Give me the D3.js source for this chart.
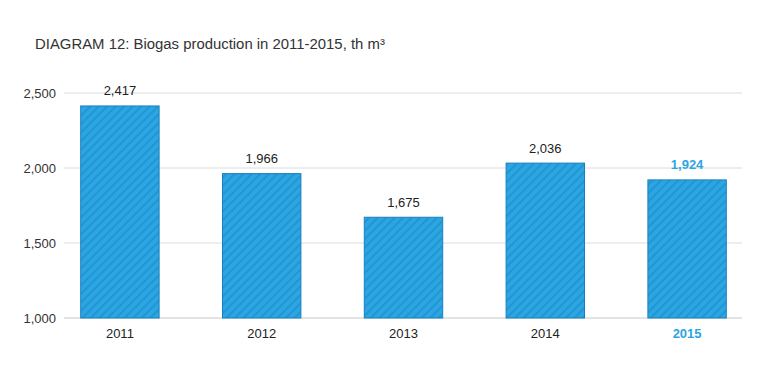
<!DOCTYPE html>
<html>
<head>
<meta charset="utf-8">
<script src="https://cdn.jsdelivr.net/npm/d3@7"></script>
<style>
  body { margin: 0; background: #fff; }
  text { font-family: "Liberation Sans", Arial, sans-serif; }
</style>
</head>
<body>
<div id="chart"></div>
<script>
var years = ["2011", "2012", "2013", "2014", "2015"];
var production = [2417, 1966, 1675, 2036, 1924];
var yTicks = [1000, 1500, 2000, 2500];

var svgWidth = 777;
var svgHeight = 372;

var svg = d3.select("#chart")
  .append("svg")
  .attr("width", svgWidth)
  .attr("height", svgHeight);

// hatch pattern for bars
var defs = svg.append("defs");
var pat = defs.append("pattern")
  .attr("id", "hatch")
  .attr("patternUnits", "userSpaceOnUse")
  .attr("width", 6)
  .attr("height", 6)
  .attr("patternTransform", "rotate(45)");
pat.append("rect").attr("width", 6).attr("height", 6).attr("fill", "#2ca6e2");
pat.append("rect").attr("x", 0).attr("width", 2).attr("height", 6).attr("fill", "#2295d3");

var xScale = d3.scaleBand()
  .domain(years)
  .range([49, 758])
  .paddingInner(0.44)
  .paddingOuter(0.22);

var yScale = d3.scaleLinear()
  .domain([1000, 2500])
  .range([318, 93]);

// title
svg.append("text")
  .attr("x", 35)
  .attr("y", 49)
  .attr("font-size", 14.9)
  .attr("fill", "#333")
  .text("DIAGRAM 12: Biogas production in 2011-2015, th m³");

// gridlines
svg.append("g")
  .selectAll("line")
  .data(yTicks)
  .enter()
  .append("line")
  .attr("x1", 64)
  .attr("x2", 742)
  .attr("y1", d => yScale(d))
  .attr("y2", d => yScale(d))
  .attr("stroke", d => d === 1000 ? "#c8c8c8" : "#dcdcdc")
  .attr("stroke-width", 1);

// y labels
svg.append("g")
  .selectAll("text")
  .data(yTicks)
  .enter()
  .append("text")
  .attr("x", 56)
  .attr("y", d => yScale(d) + 4.5)
  .attr("text-anchor", "end")
  .attr("font-size", 13)
  .attr("fill", "#333")
  .text(d => d3.format(",")(d));

var data = years.map((y, i) => ({ year: y, value: production[i] }));

// bars
svg.append("g")
  .selectAll("rect")
  .data(data)
  .enter()
  .append("rect")
  .attr("x", d => xScale(d.year) + 0.5)
  .attr("y", d => yScale(d.value) + 0.5)
  .attr("width", xScale.bandwidth() - 1)
  .attr("height", d => yScale(1000) - yScale(d.value) - 0.5)
  .attr("fill", "url(#hatch)")
  .attr("stroke", "#1a7fc1")
  .attr("stroke-width", 1);

var last = years[years.length - 1];

// value labels
svg.append("g")
  .selectAll("text")
  .data(data)
  .enter()
  .append("text")
  .attr("x", d => xScale(d.year) + xScale.bandwidth() / 2)
  .attr("y", d => yScale(d.value) - 10)
  .attr("text-anchor", "middle")
  .attr("font-size", 13)
  .attr("font-weight", d => d.year === last ? "bold" : "normal")
  .attr("fill", d => d.year === last ? "#2ca5e2" : "#222")
  .text(d => d3.format(",")(d.value));

// x labels
svg.append("g")
  .selectAll("text")
  .data(years)
  .enter()
  .append("text")
  .attr("x", d => xScale(d) + xScale.bandwidth() / 2)
  .attr("y", 338)
  .attr("text-anchor", "middle")
  .attr("font-size", 13)
  .attr("font-weight", d => d === last ? "bold" : "normal")
  .attr("fill", d => d === last ? "#2ca5e2" : "#222")
  .text(d => d);
</script>
</body>
</html>
